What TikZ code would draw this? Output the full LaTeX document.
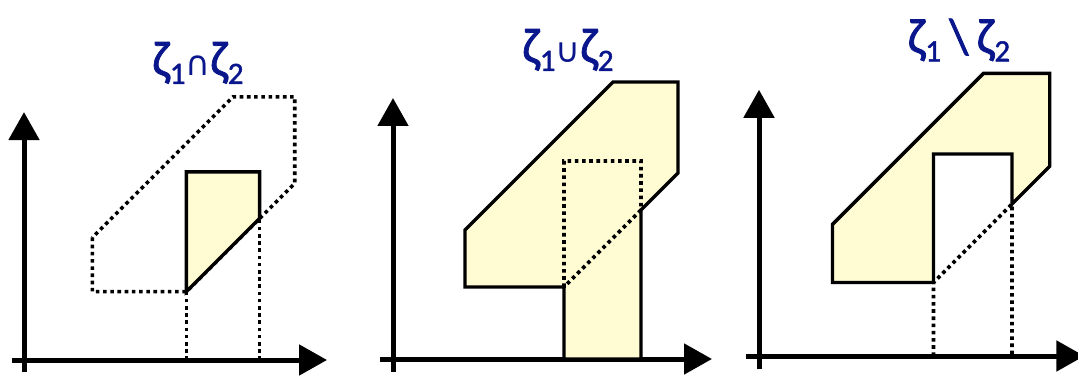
\documentclass[tikz,border=0pt]{standalone}
\usepackage{fontspec}
\setmainfont{Carlito}
\newfontfamily\lblfont{Carlito}[BoldFont={Carlito}, BoldFeatures={FakeBold=1.5}]
\newfontfamily\opsfont{DejaVu Sans}
\usetikzlibrary{arrows.meta}
\definecolor{setblue}{RGB}{10,22,140}
\definecolor{setfill}{RGB}{255,252,212}
\newcommand{\zsub}[1]{\raisebox{-8pt}{\fontsize{31}{31}\selectfont #1}}
\newcommand{\setop}[1]{{\opsfont\mdseries\fontsize{34}{34}\selectfont #1}}
\newcommand{\shapepts}{%
  \coordinate (A) at (72,129);  \coordinate (B) at (72,72);
  \coordinate (C) at (171,72);  \coordinate (D) at (285,186);
  \coordinate (E) at (285,277); \coordinate (F) at (220,277);
  \coordinate (P) at (248,149); \coordinate (Q) at (248,198);
  \coordinate (R) at (171,198); \coordinate (C0) at (171,0);
  \coordinate (P0) at (248,0);
  \draw[axis] (0,-13) -- (0,261);
  \draw[axis] (-13,0) -- (319,0);}

\begin{document}
\begin{tikzpicture}[x=1pt, y=1pt,
      axis/.style={line width=5pt, -{Triangle[length=28pt,width=30pt]}},
      region/.style={draw=black, fill=setfill, line width=3.4pt},
      dotline/.style={line width=3.6pt, dash pattern=on 3.6pt off 3.6pt},
      lbl/.style={text=setblue, font=\lblfont\bfseries\fontsize{50}{54}\selectfont, inner sep=0pt}]
  \useasboundingbox (0,0) rectangle (1078,375);
  % intersection
  \begin{scope}[shift={(24,15)}, scale=0.95]
    \shapepts
    \draw[dotline] (A) -- (B) -- (C) -- (D) -- (E) -- (F) -- cycle;
    \draw[dotline] (C0) -- (C) (P0) -- (P);
    \draw[region] (C) -- (P) -- (Q) -- (R) -- cycle;
  \end{scope}
  \node[lbl] (capl) at (198,312) {ζ\zsub{1}\setop{∩}ζ\zsub{2}};
  % union
  \begin{scope}[shift={(393,16)}]
    \shapepts
    \draw[region] (A) -- (B) -- (C) -- (C0) -- (P0) -- (P) -- (D) -- (E) -- (F) -- cycle;
    \draw[dotline] (C) -- (R) -- (Q) -- (P) -- cycle;
  \end{scope}
  \node[lbl] (cupl) at (568,325) {ζ\zsub{1}\setop{∪}ζ\zsub{2}};
  % difference
  \begin{scope}[shift={(759,19)}, scale=1.02]
    \shapepts
    \draw[region] (A) -- (B) -- (C) -- (R) -- (Q) -- (P) -- (D) -- (E) -- (F) -- cycle;
    \draw[dotline] (C0) -- (C) -- (P) -- (P0);
  \end{scope}
  \node[lbl] (difl) at (959,335) {ζ\zsub{1}\,\textbackslash\,ζ\zsub{2}};
\end{tikzpicture}
\end{document}
